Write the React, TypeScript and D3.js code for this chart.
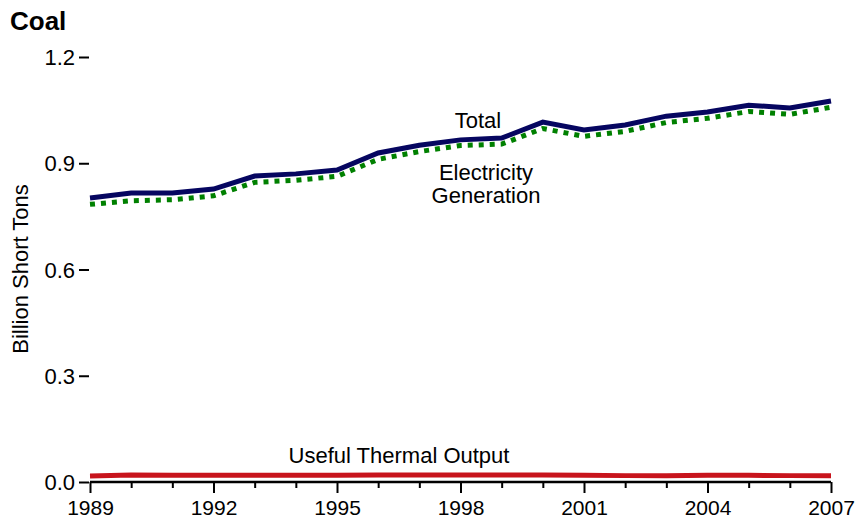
import { useEffect, useRef } from 'react';
import * as d3 from 'd3';

const years = [1989, 1990, 1991, 1992, 1993, 1994, 1995, 1996, 1997, 1998, 1999, 2000, 2001, 2002, 2003, 2004, 2005, 2006, 2007];
const total = [0.802, 0.816, 0.816, 0.827, 0.864, 0.870, 0.881, 0.929, 0.951, 0.966, 0.971, 1.016, 0.994, 1.008, 1.033, 1.045, 1.064, 1.056, 1.076];
const electricity = [0.784, 0.794, 0.797, 0.808, 0.846, 0.852, 0.863, 0.911, 0.933, 0.950, 0.954, 0.998, 0.976, 0.990, 1.015, 1.027, 1.046, 1.038, 1.058];
const thermal = [0.017, 0.020, 0.019, 0.019, 0.019, 0.019, 0.019, 0.020, 0.020, 0.020, 0.020, 0.020, 0.019, 0.018, 0.018, 0.019, 0.019, 0.018, 0.018];
const yTicks = [0, 0.3, 0.6, 0.9, 1.2];
const xLabelYears = [1989, 1992, 1995, 1998, 2001, 2004, 2007];

export default function App() {
  const ref = useRef<SVGSVGElement>(null);

  useEffect(() => {
    if (!ref.current) return;
    const svg = d3.select(ref.current);
    svg.selectAll('*').remove();
    const font = 'Liberation Sans, Arial, sans-serif';

    const x = d3.scaleLinear().domain([1989, 2007]).range([90, 831]);
    const y = d3.scaleLinear().domain([0, 1.2]).range([482, 57]);

    // titulo
    svg.append('text').attr('x', 10).attr('y', 30)
      .attr('font-family', font).attr('font-size', 26).attr('font-weight', 'bold')
      .text('Coal');

    // eje y: solo marcas cortas
    const yAxis = svg.append('g').attr('transform', 'translate(90,0)')
      .call(d3.axisLeft(y).tickValues(yTicks).tickSize(11).tickPadding(4).tickFormat(d3.format('.1f')));
    yAxis.select('.domain').remove();
    yAxis.selectAll('line').attr('stroke', '#000').attr('stroke-width', 2).attr('x2', -11).attr('x1', -1);
    yAxis.selectAll('text').attr('font-family', font).attr('font-size', 22).attr('fill', '#000').attr('dy', '0.35em');

    svg.append('text')
      .attr('transform', 'translate(28,269) rotate(-90)')
      .attr('text-anchor', 'middle')
      .attr('font-family', font).attr('font-size', 22)
      .text('Billion Short Tons');

    // eje x
    const xAxis = svg.append('g').attr('transform', 'translate(0,482)')
      .call(d3.axisBottom(x).tickValues(years).tickSize(10).tickPadding(8)
        .tickFormat(d => xLabelYears.includes(+d) ? String(d) : ''));
    xAxis.select('.domain').attr('stroke', '#000').attr('stroke-width', 2.5).attr('d', 'M90,0H831');
    xAxis.selectAll('.tick line').attr('stroke', '#000').attr('stroke-width', 2)
      .attr('y2', (d: any) => xLabelYears.includes(+d) ? 11 : 6);
    xAxis.selectAll('text').attr('font-family', font).attr('font-size', 21).attr('fill', '#000');

    const line = d3.line<number>().x((_, i) => x(years[i])).y(d => y(d));

    svg.append('path').datum(thermal).attr('d', line)
      .attr('fill', 'none').attr('stroke', '#c8141c').attr('stroke-width', 5);
    svg.append('path').datum(electricity).attr('d', line)
      .attr('fill', 'none').attr('stroke', '#008000').attr('stroke-width', 5)
      .attr('stroke-dasharray', '5,6');
    svg.append('path').datum(total).attr('d', line)
      .attr('fill', 'none').attr('stroke', '#060660').attr('stroke-width', 5);

    const labels = [
      { t: 'Total', x: 478, y: 128 },
      { t: 'Electricity', x: 486, y: 180 },
      { t: 'Generation', x: 486, y: 203 },
      { t: 'Useful Thermal Output', x: 399, y: 463 },
    ];
    svg.selectAll('.lbl').data(labels).enter().append('text')
      .attr('x', d => d.x).attr('y', d => d.y)
      .attr('text-anchor', 'middle')
      .attr('font-family', font).attr('font-size', 22)
      .text(d => d.t);
  }, []);

  return <svg ref={ref} width={860} height={520} style={{ position: 'absolute', left: 0, top: 0, background: '#fff' }} />;
}
